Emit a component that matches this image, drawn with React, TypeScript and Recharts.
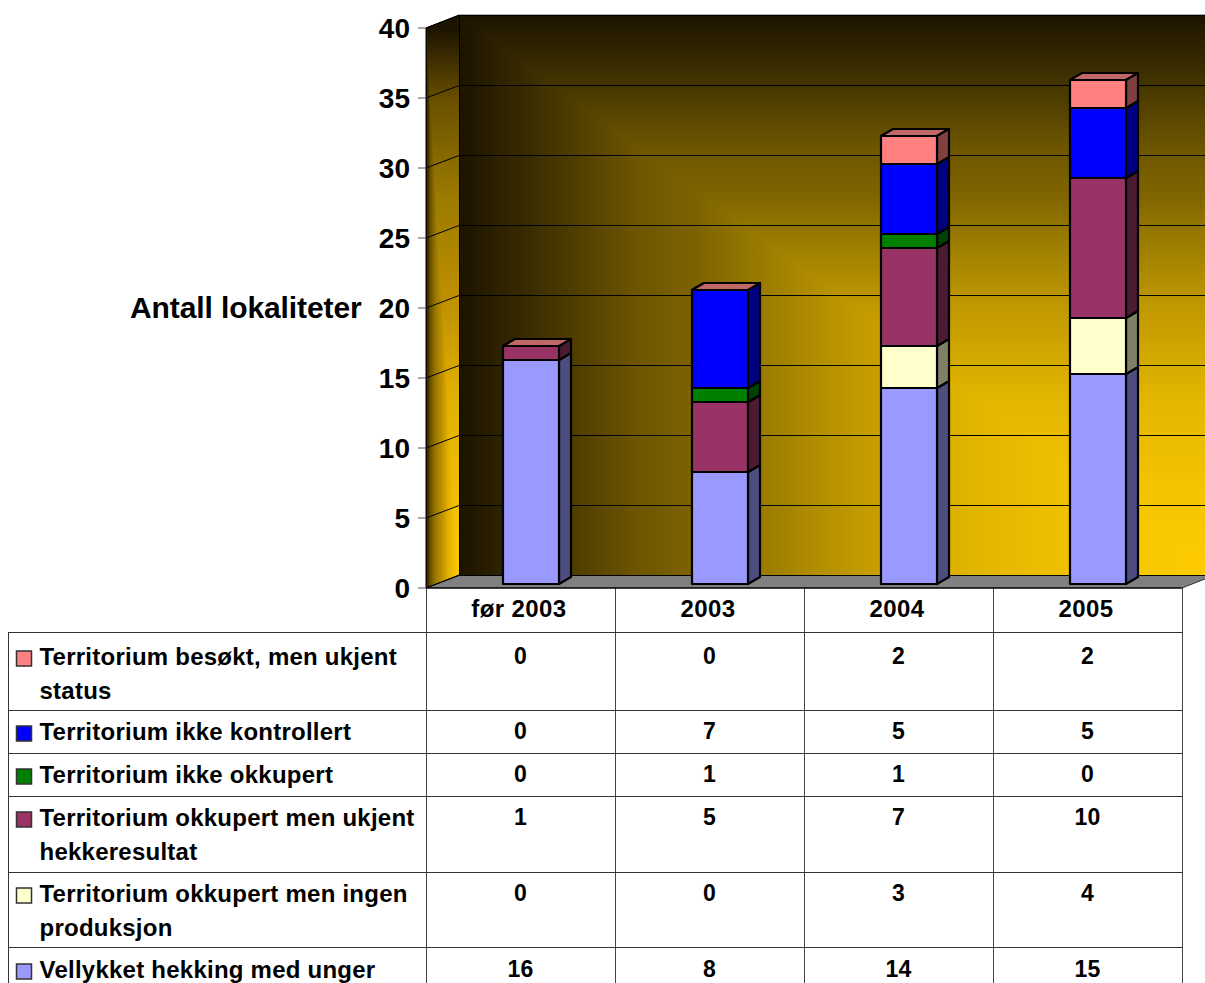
import { BarChart, Bar, XAxis, YAxis, CartesianGrid, Customized } from 'recharts'

const categories = ['før 2003', '2003', '2004', '2005']
const vellykket = [16, 8, 14, 15]
const ingenProduksjon = [0, 0, 3, 4]
const ukjentHekkeresultat = [1, 5, 7, 10]
const ikkeOkkupert = [0, 1, 1, 0]
const ikkeKontrollert = [0, 7, 5, 5]
const besokt = [0, 0, 2, 2]
const yTicks = [0, 5, 10, 15, 20, 25, 30, 35, 40]

const data = categories.map((name, i) => ({
  name,
  vellykket: vellykket[i],
  ingenProduksjon: ingenProduksjon[i],
  ukjentHekkeresultat: ukjentHekkeresultat[i],
  ikkeOkkupert: ikkeOkkupert[i],
  ikkeKontrollert: ikkeKontrollert[i],
  besokt: besokt[i],
}))

// bottom to top in the stack
const stack = [
  { key: 'vellykket', color: '#9999ff', side: '#4d4d80', top: '#7373bf' },
  { key: 'ingenProduksjon', color: '#ffffcc', side: '#808066', top: '#bfbf99' },
  { key: 'ukjentHekkeresultat', color: '#993366', side: '#4d1a33', top: '#73264d' },
  { key: 'ikkeOkkupert', color: '#008000', side: '#004000', top: '#006000' },
  { key: 'ikkeKontrollert', color: '#0000ff', side: '#000080', top: '#0000bf' },
  { key: 'besokt', color: '#ff8080', side: '#804040', top: '#c06868' },
]

// table rows, top to bottom
const rows = [
  { label: ['Territorium besøkt, men ukjent', 'status'], values: besokt, color: '#ff8080' },
  { label: ['Territorium ikke kontrollert'], values: ikkeKontrollert, color: '#0000ff' },
  { label: ['Territorium ikke okkupert'], values: ikkeOkkupert, color: '#008000' },
  { label: ['Territorium okkupert men ukjent', 'hekkeresultat'], values: ukjentHekkeresultat, color: '#993366' },
  { label: ['Territorium okkupert men ingen', 'produksjon'], values: ingenProduksjon, color: '#ffffcc' },
  { label: ['Vellykket hekking med unger'], values: vellykket, color: '#9999ff' },
]
const rowTops = [632, 710, 753, 796, 872, 947]
const rowBaselines = [665, 740, 783, 826, 902, 978]

// the wall fill gets bright quickly and flattens out towards the corner
const wallStops: [number, string][] = [
  [0, '#1c1300'],
  [0.1, '#3c2e00'],
  [0.24, '#6e5600'],
  [0.32, '#7f6400'],
  [0.42, '#a08000'],
  [0.52, '#c09800'],
  [0.68, '#e2b500'],
  [0.85, '#f5c400'],
  [1, '#ffcc00'],
]
const sideStops: [number, string][] = [
  [0, '#1c1300'],
  [0.13, '#6a5000'],
  [0.3, '#9a7a00'],
  [0.49, '#c09000'],
  [0.66, '#e0b000'],
  [1, '#ffcc00'],
]

const FONT = '"Liberation Sans", Arial, sans-serif'
const LEFT = 426
const RIGHT = 1182
const TOP = 28
const BOTTOM = 588
const DX = 33
const DY = 13
const BAR_DX = 10
const BAR_DY = 4
const DEPTH_X = 12
const DEPTH_Y = 7
const COLUMN = (RIGHT - LEFT) / categories.length

function Bar3D(props: any) {
  const { x, y, width, height, fill, side, top, cap } = props
  if (!height && !cap) return null
  const fx = x + BAR_DX
  const fy = y - BAR_DY
  const r = fx + width
  const b = fy + (height || 0)
  return (
    <g stroke="#000" strokeWidth={2.2} strokeLinejoin="round">
      <polygon points={`${fx},${fy} ${fx + DEPTH_X},${fy - DEPTH_Y} ${r + DEPTH_X},${fy - DEPTH_Y} ${r},${fy}`} fill={top} />
      {height ? (
        <>
          <polygon points={`${r},${fy} ${r + DEPTH_X},${fy - DEPTH_Y} ${r + DEPTH_X},${b - DEPTH_Y} ${r},${b}`} fill={side} />
          <rect x={fx} y={fy} width={width} height={height} fill={fill} />
        </>
      ) : null}
    </g>
  )
}

function Stops({ list }: { list: [number, string][] }) {
  return (
    <>
      {list.map(([o, c]) => (
        <stop key={o} offset={o} stopColor={c} />
      ))}
    </>
  )
}

function Walls() {
  const wl = LEFT + DX
  const wr = RIGHT + DX
  const wt = TOP - DY
  const wb = BOTTOM - DY
  return (
    <svg width={1205} height={983} style={{ position: 'absolute', left: 0, top: 0 }}>
      <defs>
        <linearGradient id="wallH" gradientUnits="userSpaceOnUse" x1={wl} y1={0} x2={wr} y2={0}>
          <Stops list={wallStops} />
        </linearGradient>
        <linearGradient id="wallV" gradientUnits="userSpaceOnUse" x1={0} y1={wt} x2={0} y2={wb}>
          <Stops list={wallStops} />
        </linearGradient>
        <linearGradient id="sideH" gradientUnits="userSpaceOnUse" x1={LEFT} y1={0} x2={wl} y2={0}>
          <Stops list={sideStops} />
        </linearGradient>
        <linearGradient id="sideV" gradientUnits="userSpaceOnUse" x1={0} y1={TOP} x2={0} y2={BOTTOM}>
          <Stops list={sideStops} />
        </linearGradient>
      </defs>
      {/* back wall: corner gradient, one full fill and one triangle over it */}
      <rect x={wl} y={wt} width={wr - wl} height={wb - wt} fill="url(#wallH)" />
      <polygon points={`${wl},${wt} ${wr},${wt} ${wr},${wb}`} fill="url(#wallV)" />
      {/* left wall */}
      <polygon points={`${LEFT},${TOP} ${wl},${wt} ${wl},${wb} ${LEFT},${BOTTOM}`} fill="url(#sideH)" />
      <polygon points={`${LEFT},${TOP} ${wl},${wt} ${wl},${wb}`} fill="url(#sideV)" />
      {/* floor */}
      <polygon points={`${LEFT},${BOTTOM} ${wl},${wb} ${wr},${wb} ${RIGHT},${BOTTOM}`} fill="#808080" />
      <line x1={wl} y1={wb + 0.5} x2={wr} y2={wb + 0.5} stroke="#000" />
      <line x1={LEFT} y1={BOTTOM} x2={wl} y2={wb} stroke="#000" />
      <line x1={RIGHT} y1={BOTTOM} x2={wr} y2={wb} stroke="#333" />
      <line x1={wl + 0.5} y1={wt} x2={wl + 0.5} y2={wb} stroke="#000" />
      <line x1={LEFT} y1={TOP} x2={wl} y2={wt} stroke="#000" />
      <line x1={wl} y1={wt - 0.5} x2={wr} y2={wt - 0.5} stroke="#b0b0b0" />
      <text x={130} y={318} fontFamily={FONT} fontWeight={700} fontSize={30} letterSpacing={-0.1} fill="#000">
        Antall lokaliteter
      </text>
    </svg>
  )
}

function WallGridLine(props: any) {
  const { x1, x2, y1 } = props
  const y = y1 - DY + 0.5
  return <polyline points={`${x1},${y1} ${x1 + DX},${y} ${x2 + DX},${y}`} fill="none" stroke="#000" strokeWidth={1} />
}

function DataTable() {
  return (
    <g fontFamily={FONT} fontWeight={700} fill="#000">
      <line x1={8.5} y1={632} x2={8.5} y2={983} stroke="#333" />
      {categories.map((_, i) => LEFT + COLUMN * i).concat(RIGHT).map((x) => (
        <line key={x} x1={x + 0.5} y1={BOTTOM} x2={x + 0.5} y2={983} stroke="#444" />
      ))}
      {rows.map((row, r) => {
        const base = rowBaselines[r]
        return (
          <g key={row.label[0]}>
            <line x1={8} y1={rowTops[r] + 0.5} x2={RIGHT} y2={rowTops[r] + 0.5} stroke="#333" />
            <rect x={16.5} y={base - 14} width={15} height={15} fill={row.color} stroke="#333" strokeWidth={1.5} />
            {row.label.map((line, i) => (
              <text key={line} x={39.5} y={base + i * 33.5} fontSize={24} letterSpacing={0.24}>
                {line}
              </text>
            ))}
            {row.values.map((v, i) => (
              <text key={i} x={LEFT + COLUMN * (i + 0.5)} y={base - 1} fontSize={23} letterSpacing={0.2} textAnchor="middle">
                {v}
              </text>
            ))}
          </g>
        )
      })}
    </g>
  )
}

export default function App() {
  return (
    <div style={{ position: 'absolute', left: 0, top: 0, width: 1205, height: 983, overflow: 'hidden', background: '#fff' }}>
      <Walls />
      <div style={{ position: 'absolute', left: 0, top: 0 }}>
        <BarChart
          width={1205}
          height={983}
          data={data}
          margin={{ top: TOP, right: 1205 - RIGHT, bottom: 983 - BOTTOM - 45, left: LEFT - 60 }}
          barSize={56}
        >
          <CartesianGrid vertical={false} horizontal={(p: any) => <WallGridLine key={p.key} {...p} />} />
          <XAxis
            dataKey="name"
            height={45}
            axisLine={{ stroke: '#000', strokeWidth: 1.5 }}
            tickLine={false}
            tickMargin={6}
            tick={{ fontFamily: FONT, fontWeight: 700, fontSize: 24, letterSpacing: 0.4, fill: '#000', dx: -1.5 }}
          />
          <YAxis
            width={60}
            domain={[0, 40]}
            ticks={yTicks}
            interval={0}
            axisLine={{ stroke: '#000', strokeWidth: 1 }}
            tickLine={{ stroke: '#555' }}
            tickSize={8}
            tickMargin={8}
            tick={{ fontFamily: FONT, fontWeight: 700, fontSize: 28, fill: '#000' }}
          />
          {stack.map((s, i) => (
            <Bar
              key={s.key}
              dataKey={s.key}
              stackId="a"
              fill={s.color}
              isAnimationActive={false}
              shape={(p: any) => <Bar3D {...p} side={s.side} top={s.top} cap={i === stack.length - 1} />}
            />
          ))}
          <Customized component={DataTable} />
        </BarChart>
      </div>
    </div>
  )
}
